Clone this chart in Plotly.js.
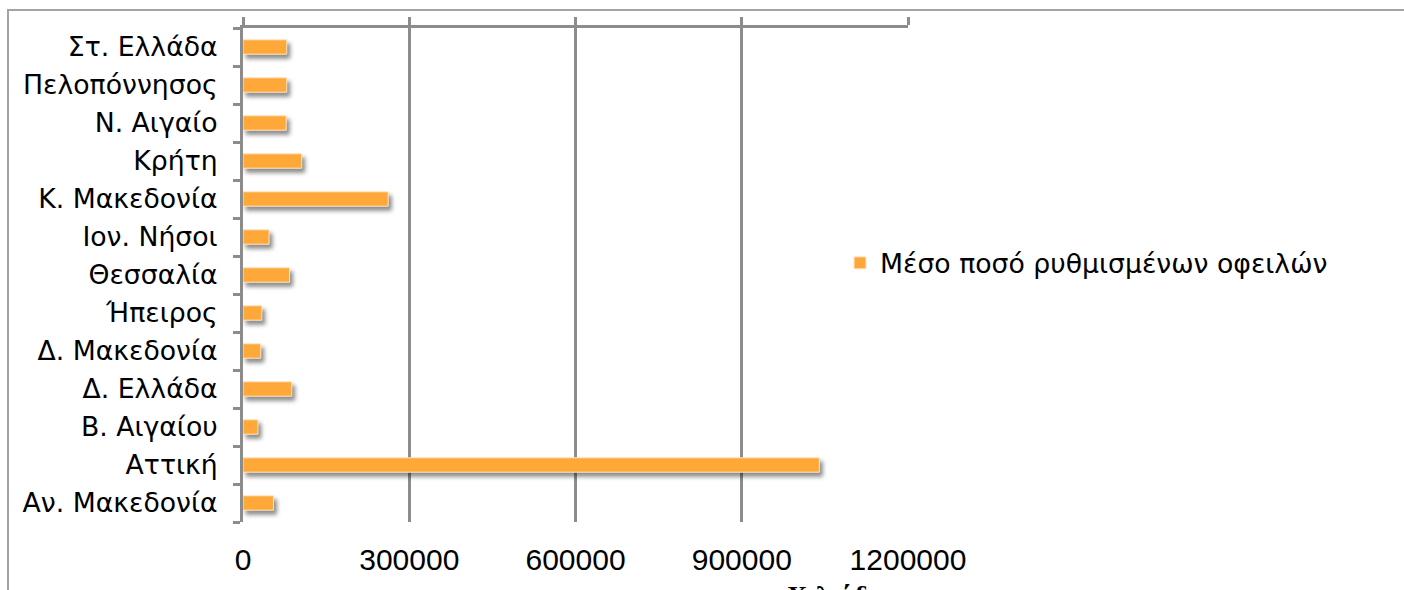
<!DOCTYPE html>
<html>
<head>
<meta charset="utf-8">
<script src="https://cdn.plot.ly/plotly-3.0.1.min.js"></script>
<style>
  html, body { margin: 0; padding: 0; background: #fff; }
  #wrap { position: relative; width: 1404px; height: 590px; overflow: hidden; }
  #chart { position: absolute; left: 0; top: 0; width: 1404px; height: 590px; }
  #frame { position: absolute; left: 7px; top: 9px; width: 1404px; height: 600px;
           border-left: 2px solid #a3a3a3; border-top: 2px solid #a3a3a3; pointer-events: none; }
  .barlayer .point path { filter: drop-shadow(3px 4px 2px rgba(0,0,0,0.45)); }
</style>
</head>
<body>
<div id="wrap">
  <div id="chart"></div>
  <div id="frame"></div>
</div>
<script>
const categories = ["Αν. Μακεδονία", "Αττική", "Β. Αιγαίου", "Δ. Ελλάδα", "Δ. Μακεδονία",
  "Ήπειρος", "Θεσσαλία", "Ιον. Νήσοι", "Κ. Μακεδονία", "Κρήτη", "Ν. Αιγαίο",
  "Πελοπόννησος", "Στ. Ελλάδα"];
const values = [55000, 1040000, 27000, 88000, 32000, 34000, 84000, 47000, 262000, 106000, 78000, 79000, 79000];
const seriesName = "Μέσο ποσό ρυθμισμένων οφειλών";
const xTickVals = [0, 300000, 600000, 900000, 1200000];
const xTickText = ["0", "300000", "600000", "900000", "1200000"];
const xTitle = "Χιλιάδες";

const gridColor = "#8c8c8c";
const plotH = 590 - 28 - 68;
const trace = {
  type: "bar",
  orientation: "h",
  y: categories,
  x: values,
  name: seriesName,
  marker: { color: "#ffa83a", line: { color: "#ffe6c4", width: 1 } },
  showlegend: true,
  hoverinfo: "x+y"
};
const ghost = {
  type: "bar", orientation: "h", y: categories, x: values, xaxis: "x2",
  marker: { color: "rgba(0,0,0,0)" }, showlegend: false, hoverinfo: "skip"
};

const layout = {
  width: 1404, height: 590,
  margin: { l: 243, r: 496, t: 28, b: 68 },
  paper_bgcolor: "rgba(0,0,0,0)",
  plot_bgcolor: "rgba(0,0,0,0)",
  bargap: 0.62,
  font: { family: "DejaVu Sans, Verdana, sans-serif", size: 26.7, color: "#000" },
  xaxis: {
    side: "top",
    range: [0, 1200000],
    tickmode: "array", tickvals: xTickVals, showticklabels: false,
    showgrid: true, gridcolor: gridColor, gridwidth: 3,
    showline: true, linecolor: gridColor, linewidth: 3,
    ticks: "outside", ticklen: 8, tickwidth: 3, tickcolor: gridColor,
    zeroline: false
  },
  xaxis2: {
    overlaying: "x", side: "bottom", range: [0, 1200000],
    tickmode: "array", tickvals: xTickVals, ticktext: xTickText,
    tickfont: { family: "Liberation Sans Narrow, Arial Narrow, sans-serif", size: 30, color: "#000" },
    showgrid: false, zeroline: false, showline: false, ticks: "",
    ticklabelstandoff: 17
  },
  yaxis: {
    type: "category",
    tickson: "boundaries",
    ticks: "outside", ticklen: 7, tickwidth: 3, tickcolor: gridColor,
    showline: true, linecolor: gridColor, linewidth: 3,
    showgrid: false, zeroline: false,
    tickfont: { family: "DejaVu Sans, Verdana, sans-serif", size: 26.7, color: "#000" },
    ticklabelstandoff: 17
  },
  legend: {
    x: (840 - 243) / 665, xanchor: "left",
    y: (522 - 263) / 494, yanchor: "middle",
    itemwidth: 30,
    bgcolor: "rgba(0,0,0,0)",
    font: { family: "DejaVu Sans, Verdana, sans-serif", size: 26.7, color: "#000" }
  },
  annotations: [{
    text: "<b>" + xTitle + "</b>",
    xref: "paper", yref: "paper",
    x: (840 - 243) / 665, xanchor: "center",
    y: -(578 - 522) / plotH, yanchor: "top",
    showarrow: false,
    font: { family: "Liberation Serif, Times New Roman, serif", size: 28, color: "#000" }
  }]
};

Plotly.newPlot("chart", [ghost, trace], layout, { displayModeBar: false, staticPlot: true });
</script>
</body>
</html>
